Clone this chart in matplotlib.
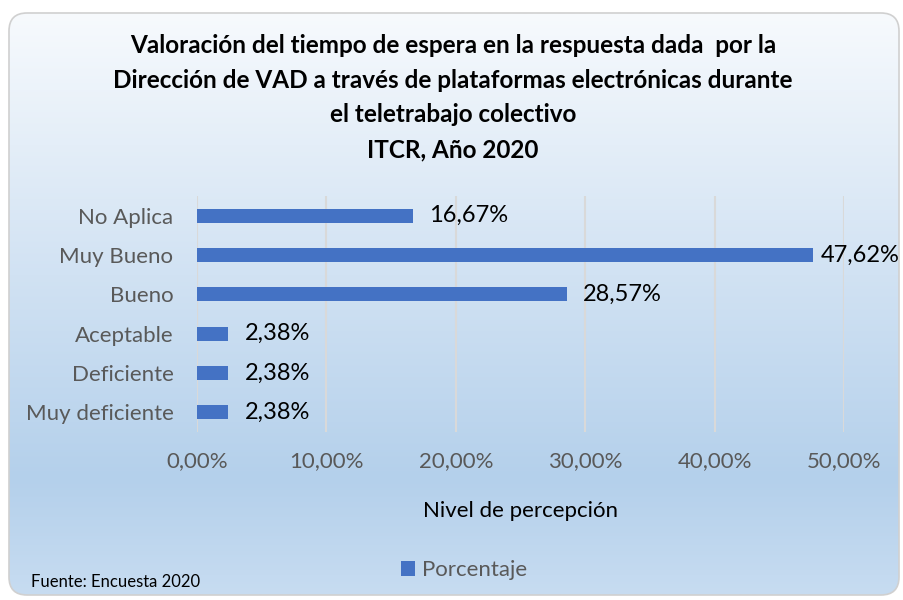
import numpy as np
import matplotlib
matplotlib.use('Agg')
import matplotlib.pyplot as plt
from matplotlib.patches import FancyBboxPatch, Rectangle
from matplotlib.colors import LinearSegmentedColormap

# Data (bottom to top, as drawn by barh)
categories = ['Muy deficiente', 'Deficiente', 'Aceptable', 'Bueno', 'Muy Bueno', 'No Aplica']
valores = [2.38, 2.38, 2.38, 28.57, 47.62, 16.67]
x_ticks = [0, 10, 20, 30, 40, 50]
x_ticklabels = ['0,00%', '10,00%', '20,00%', '30,00%', '40,00%', '50,00%']

title = ('Valoración del tiempo de espera en la respuesta dada  por la\n'
         'Dirección de VAD a través de plataformas electrónicas durante\n'
         'el teletrabajo colectivo\n'
         'ITCR, Año 2020')

FONT = 'Lato'
BAR_COLOR = '#4472c4'
GRAY = '#595959'

W, H = 904, 600
fig = plt.figure(figsize=(W / 100, H / 100), dpi=100)
fig.patch.set_facecolor('white')

# Background panel with vertical gradient and rounded frame
bg = fig.add_axes([0, 0, 1, 1])
bg.set_xlim(0, W)
bg.set_ylim(H, 0)
bg.axis('off')
cmap = LinearSegmentedColormap.from_list('bg', [
    (0.0, (247/255, 250/255, 253/255)),
    (0.45, (209/255, 226/255, 243/255)),
    (0.80, (180/255, 208/255, 235/255)),
    (1.0, (199/255, 220/255, 241/255)),
])
grad = np.linspace(0, 1, 256).reshape(-1, 1)
frame = FancyBboxPatch((9, 13), 890, 582, boxstyle='round,pad=0,rounding_size=18',
                       facecolor='none', edgecolor='#d0d0d0', linewidth=1.2, zorder=3)
bg.add_patch(frame)
im = bg.imshow(grad, cmap=cmap, extent=(9, 899, 595, 13), aspect='auto', zorder=1)
im.set_clip_path(frame)

# Main plot
ax = fig.add_axes([197 / W, 1 - 432 / H, (844 - 197) / W, (432 - 196) / H])
ax.set_facecolor('none')
y = np.arange(len(categories))
ax.barh(y, valores, height=0.36, color=BAR_COLOR, zorder=3)
ax.set_xlim(0, 50)
ax.set_ylim(-0.5, len(categories) - 0.5)
ax.set_xticks(x_ticks)
ax.set_xticklabels(x_ticklabels, fontsize=16, color=GRAY, family=FONT)
ax.set_yticks(y)
ax.set_yticklabels(categories, fontsize=16, color=GRAY, family=FONT)
ax.tick_params(length=0)
ax.tick_params(axis='y', pad=17)
ax.tick_params(axis='x', pad=14)
ax.grid(axis='x', color='#d9d9d9', linewidth=1.5, zorder=0)
for s in ax.spines.values():
    s.set_visible(False)

labels = []
for yi, v in zip(y, valores):
    t = ax.annotate(f'{v:.2f}%'.replace('.', ','), (v, yi), xytext=(12, 0),
                    textcoords='offset points', va='center', ha='left',
                    fontsize=17, color='black', family=FONT)
    labels.append(t)

ax.set_xlabel('Nivel de percepción', fontsize=16, family=FONT, labelpad=21)

fig.text(453 / W, 1 - 97.5 / H, title, ha='center', va='center',
         fontsize=17.5, fontweight='bold', family=FONT, linespacing=1.62)

handle = Rectangle((0, 0), 1, 1, facecolor=BAR_COLOR)
fig.legend([handle], ['Porcentaje'], loc='center', bbox_to_anchor=(464 / W, 1 - 570 / H),
           frameon=False, handlelength=0.65, handleheight=0.65, handletextpad=0.3,
           prop={'family': FONT, 'size': 16}, labelcolor=GRAY)

fig.text(31 / W, 1 - 582 / H, 'Fuente: Encuesta 2020', ha='left', va='center',
         fontsize=12, family=FONT)

# keep data labels inside the chart frame, like the spreadsheet does
fig.canvas.draw()
r = fig.canvas.get_renderer()
for t in labels:
    ext = t.get_window_extent(r)
    over = ext.x1 - (W - 4)
    if over > 0:
        t.set_position((12 - over * 72 / fig.dpi, 0))

fig.savefig('out.png', dpi=100)
